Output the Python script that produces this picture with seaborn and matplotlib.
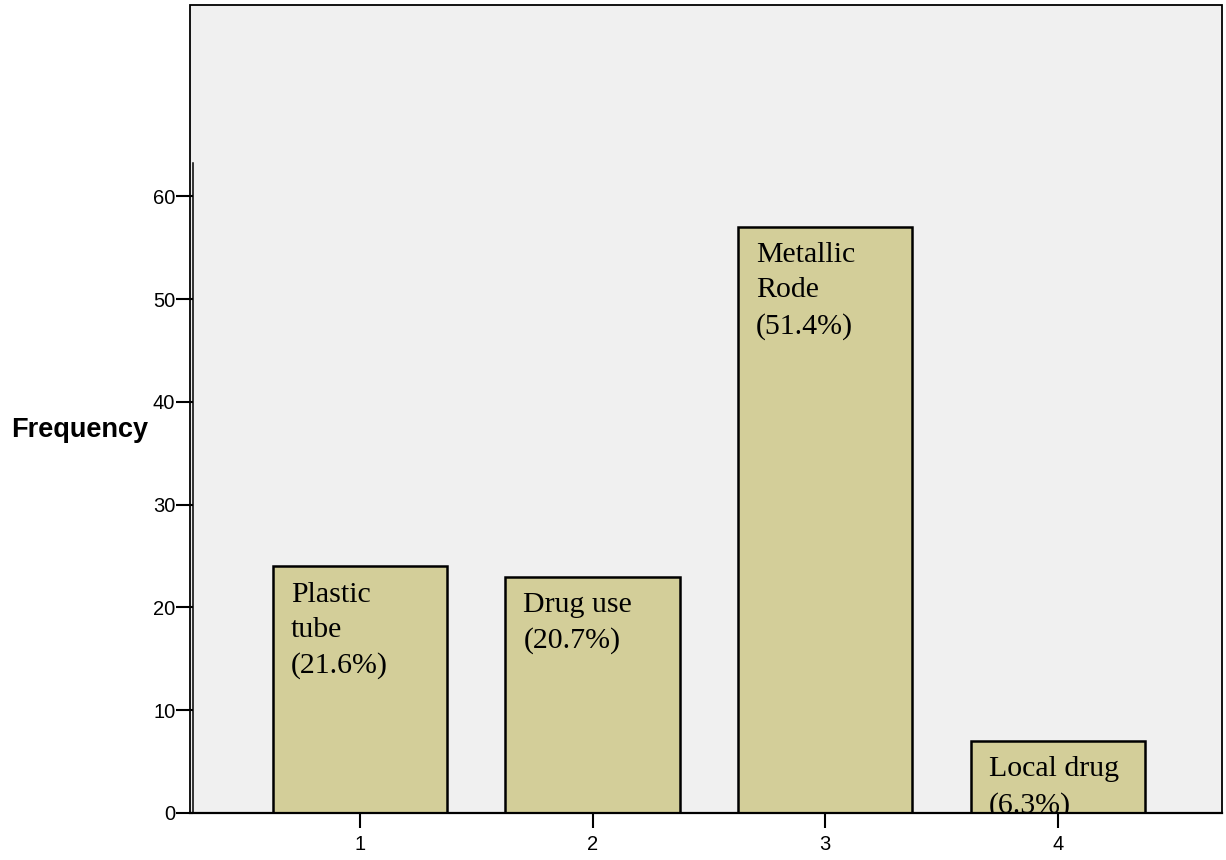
from matplotlib import pyplot as plt
import pandas as pd
import numpy as np
import seaborn as sns

categories = ['1', '2', '3', '4']
frequency = [24, 23, 57, 7]
bar_labels = ['Plastic\ntube\n(21.6%)', 'Drug use\n(20.7%)',
              'Metallic\nRode\n(51.4%)', 'Local drug\n(6.3%)']
y_ticks = [0, 10, 20, 30, 40, 50, 60]

if __name__ == "__main__":
    sns.set_style('white')
    plt.rcParams['font.family'] = ['Liberation Sans', 'DejaVu Sans']
    plt.rcParams['text.color'] = 'black'
    plt.rcParams['axes.labelcolor'] = 'black'
    plt.rcParams['xtick.color'] = 'black'
    plt.rcParams['ytick.color'] = 'black'

    data = pd.DataFrame({'category': categories, 'frequency': frequency})

    fig = plt.figure(figsize=(12.26, 8.6), dpi=100)
    ax = fig.add_axes([190 / 1226, 47 / 860, 1032 / 1226, 808 / 860])

    sns.barplot(data=data, x='category', y='frequency', color='#d3ce99',
                saturation=1, width=0.75, edgecolor='black', linewidth=1.8, ax=ax)

    ax.set_facecolor('#f0f0f0')
    ax.patch.set_edgecolor('black')
    ax.patch.set_linewidth(1.3)

    ax.set_xlim(-0.731, 3.706)
    ax.set_ylim(0, 78.6)
    ax.set_yticks(y_ticks)

    # labels inside bars, clipped at the axis like the original
    for patch, label in zip(ax.patches, bar_labels):
        ax.annotate(label, (patch.get_x(), patch.get_height()),
                    xytext=(13, -11), textcoords='offset points',
                    ha='left', va='top', fontsize=21.5, linespacing=1.45,
                    color='black', family=['Liberation Serif', 'DejaVu Serif'],
                    annotation_clip=False, clip_on=True)

    for side in ['top', 'right']:
        ax.spines[side].set_visible(False)
    ax.spines['left'].set_bounds(0, 63.2)
    ax.spines['left'].set_position(('outward', -2.4))
    ax.spines['left'].set_linewidth(1.1)
    ax.spines['bottom'].set_linewidth(1.6)
    ax.spines['left'].set_color('black')
    ax.spines['bottom'].set_color('black')

    ax.tick_params(axis='y', direction='out', length=12, width=1.5,
                   labelsize=14.5, pad=1, left=True)
    ax.tick_params(axis='x', direction='out', length=11, width=1.5,
                   labelsize=14.5, pad=5, bottom=True)

    ax.set_xlabel('')
    ax.set_ylabel('Frequency', rotation=0, fontsize=19.5, fontweight='bold',
                  ha='right', va='center')
    ax.yaxis.set_label_coords(-0.04, (813 - 430) / 808)

    plt.savefig('out.png', dpi=100)
